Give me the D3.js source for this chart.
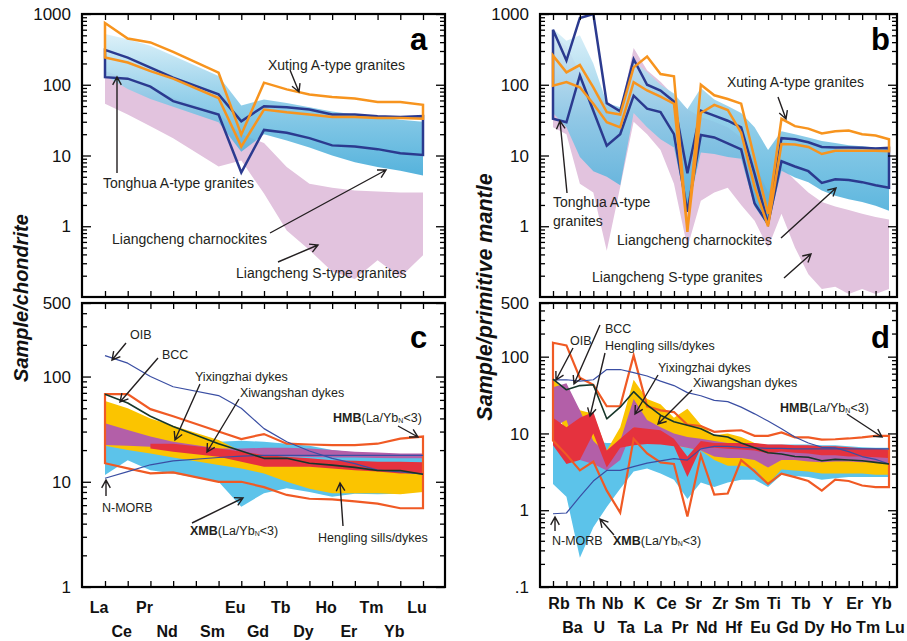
<!DOCTYPE html>
<html><head><meta charset="utf-8">
<script src="https://cdn.jsdelivr.net/npm/d3@7"></script>
<style>body{margin:0;background:#fff} text{font-family:"Liberation Sans",Arial,sans-serif}</style>
</head><body><svg id="chart" width="907" height="641"></svg>
<script>
// ---------- categories ----------
const reeElems = ["La","Ce","Pr","Nd","Pm","Sm","Eu","Gd","Tb","Dy","Ho","Er","Tm","Yb","Lu"];
const reeLabels = ["La","Ce","Pr","Nd","","Sm","Eu","Gd","Tb","Dy","Ho","Er","Tm","Yb","Lu"];
const spiderElems = ["Rb","Ba","Th","U","Nb","Ta","K","La","Ce","Pr","Sr","Nd","Zr","Hf","Sm","Eu","Ti","Gd","Tb","Dy","Y","Ho","Er","Tm","Yb","Lu"];
const tickValsAB = [1000,100,10,1];
const tickLabsAB = ["1000","100","10","1"];
const tickValsC = [500,100,10,1];
const tickLabsC = ["500","100","10","1"];
const tickValsD = [500,100,10,1,0.1];
const tickLabsD = ["500","100","10","1",".1"];

// ---------- panel a (chondrite-normalized) ----------
const xutingA_hi = [745,451,396,291,null,148,19.7,107,86,73,67,64,57,57,52];
const xutingA_lo = [242,206,156,122,null,65,13.4,44.6,40.8,38,35,35,34,34,33];
const tonghuaA_hi = [311,242,175,126,null,73,30.4,49.8,48,44.6,38,38,36,35,36];
const tonghuaA_lo = [128,122,94,58.6,null,38,5.75,23,21,17.6,13.9,13.4,12.3,10.8,10.2];
const charnA_hi = [520,440,355,256,null,133,51,62,55,48,42,38,35,32,30];
const charnA_lo = [134,87,63,49,null,29.5,11.3,20,16.3,13,10,8,6.9,6.1,5.2];
const stypeA_hi = [158,120,90,65,null,40,20,15,6.9,4.0,3.5,3.2,3.1,3.0,3.0];
const stypeA_lo = [54,38,26,17.6,null,7.0,8.5,2.9,0.87,0.46,0.23,0.18,0.33,0.19,0.39];

// ---------- panel b (primitive-mantle-normalized) ----------
const xutingB_hi = [258,150,190,92,41,38,176,250,142,132,0.83,100,71,63,54,9,1.5,33,26,24,20.5,22,22.5,20,19.2,17];
const xutingB_lo = [97,109,92,54,29.5,25,109,83,68,54,0.87,40,52,44,21,3.6,1.0,14.5,14.3,13.2,10.5,11.7,11.7,11.7,11.7,11.5];
const tonghuaB_hi = [600,220,880,1000,55,42,230,100,83,58,5.6,43,36.6,31,25,5.5,1.08,17.6,17,15.4,13.2,13,13,12.9,12.6,12.8];
const tonghuaB_lo = [33,29.5,135,43,13.8,20,70,46,41,20,1.6,19.5,18,14.8,12.2,2.1,1.08,8.3,7,6,4.1,4.6,4.5,4.2,3.8,3.5];
const charnB_hi = [620,420,500,200,55,48,215,152,100,75,45,90,62,50,40,25,12,22,20,18,16,15,14,13.5,13,12.5];
const charnB_lo = [40,25,9.5,6,5,3.8,40,25,17,13,1.6,11,10.5,9.5,9,1.9,1.0,6.1,4.9,4.2,3.2,2.7,2.4,2.2,1.95,1.65];
const stypeB_hi = [520,350,150,100,50,40,330,160,110,70,45,35,30,25,18,8,3,7,4.5,3,2.2,1.9,1.7,1.5,1.35,1.25];
const stypeB_lo = [25,20,4,3,0.45,3.6,30,20,12,4,0.5,2.3,3,3.5,2,1.2,0.5,1.5,0.5,0.21,0.13,0.14,0.11,0.13,0.11,0.13];

// ---------- panel c (chondrite-normalized, mafic) ----------
const oibC = [158,134,100,80,null,66,50,32,24,19.6,16.7,14.9,12.9,12.4,11.8];
const nmorbC = [10.8,12.5,14.5,15.8,null,17,17.5,17.8,17.8,17.8,17.8,17.8,17.8,17.8,17.8];
const bccC = [68,56,42,33.5,null,23,19.6,16.7,16.7,15,14.4,13.7,12.8,12.8,11.8];
const hmbC_hi = [68,68,49,42,null,30,25.5,28.4,23,22.6,22.3,22.3,23,25.7,26.9];
const hmbC_lo = [15,13.4,12,12.3,null,10,10,8.9,7.5,6.9,6.8,6.5,6.2,5.6,5.6];
const henglingC_hi = [58.6,50,40,34,null,25,19.4,17,16.5,16,15.5,15,14.5,14,13.5];
const henglingC_lo = [22,20,18.6,17,null,14.4,13.4,12,10,8.6,7.8,7.8,7.8,7.6,8.0];
const xmbC_hi = [22,22,21.5,21,null,24,24.5,24,23,22,20,19,18.5,18,18];
const xmbC_lo = [11.6,16,12.9,12,null,10,5.8,7.8,8.7,8.0,7.2,7.7,7.6,7.7,8.3];
const yixingC_hi = [36,31,27,24,null,20.7,20.7,21,21,20.7,20,19.3,19,18.6,18.6];
const yixingC_lo = [22.4,22,21.5,20.7,null,18.6,17.9,17.6,17.4,17.2,17,17,16.8,16.7,16.7];
const xiwangC_hi = [null,null,23,23,null,20.7,19.4,18,17.3,16.7,16,15.8,15.5,15.5,15.3];
const xiwangC_lo = [null,null,20.7,19.3,null,17.3,15.5,13.9,13.9,13.9,13.4,12.9,12.5,12,12];

// ---------- panel d (primitive-mantle-normalized, mafic) ----------
const oibD = [50,50,48,50,68,68,62,56,48,42,34,31,27,26,22,18,14.5,11.5,9,7.5,6.6,6.5,5.8,5.0,4.6,4.0];
const nmorbD = [0.9,0.92,1.5,2.4,3.3,3.3,3.7,4.1,4.4,4.7,4.5,6.3,6.8,6.8,6.6,6.5,6.4,6.4,6.3,6.3,6.3,6.3,6.3,6.3,6.3,6.3];
const bccD = [51,37,42,43,15.5,22,35,23.5,17.3,14.2,12.8,11.5,9.5,9.0,7.5,6.5,5.6,5.4,5.0,4.9,4.4,4.6,4.5,4.4,4.2,4.0];
const hmbD_hi = [152,140,53,43,22.6,22.6,104,22.6,20,19,13,12.5,10.5,10.8,11,9.3,9.3,10.3,8.9,8.9,8.3,8.4,8.6,8.9,9.3,9.3];
const hmbD_lo = [8.1,5.3,3.3,4.3,1.8,0.93,8.5,5.5,4.2,4.0,0.83,5.2,1.6,1.65,4.5,3.2,2.2,3.0,2.7,2.4,1.8,2.5,2.4,2.1,2.0,2.0];
const henglingD_hi = [50,35,20,18,6,12,50,28,24,16,21,13,9.5,10,9,7.5,7,7,6.5,6,5.8,5.8,5.5,5.3,5.2,5.0];
const henglingD_lo = [25,10,6,8,4.5,6,12,9,8,7,6.5,6,4.5,3.8,3.8,3.5,2.2,3.4,3.3,3.2,3.0,3.0,3.0,3.0,2.9,2.9];
const xmbD_hi = [8,8,8,8,7.5,7.5,9.5,7.5,7.5,7.5,7.2,7.2,7.2,7.2,7.2,7.2,7.2,7.2,7.2,7.2,7,7,6.8,6.6,6.5,6.5];
const xmbD_lo = [2.2,1.5,0.24,0.6,1.1,1.9,3.2,3.5,3.0,2.5,1.4,2.3,2.0,2.3,2.5,2.5,2.0,2.9,2.8,2.7,2.5,2.6,2.7,2.7,2.7,2.7];
const yixingD_hi = [40,45,20,8,5.5,8,28,15,12,10,9,8.5,8,7.5,7.5,7,5.5,6.5,6.3,6.2,6.0,6.0,5.8,5.6,5.5,5.4];
const yixingD_lo = [12,15,4.5,4,3.3,4.5,12,9,8,7,6.5,6,5,4.8,4.8,4.5,3.6,4.5,4.5,4.3,4.2,4.3,4.3,4.2,4.2,4.1];
const xiwangD_hi = [16,12,16,19,6,8.5,12,11.5,11,8.5,5,8,7.5,7.5,7.5,7.5,7.2,7.2,7,7,6.8,6.8,6.6,6.4,6.3,6.2];
const xiwangD_lo = [7,4,4.5,10,3.6,6.5,7,7.3,7.2,6.8,2.7,6.5,6.5,6.3,6.2,6,5.5,5.8,5.6,5.5,5.2,5.2,5.0,5.0,4.9,4.8];

// ---------- colours ----------
const C = {orange:"#f7941e", tonghua:"#2b3a8f", pink:"#e2c3de", hmb:"#f05a24", yellow:"#fbc400",
  purple:"#b35fa8", red:"#e5323e", xmb:"#5cc3ea", thin:"#3a4ea3", bcc:"#17372a", ink:"#231f20"};

const svg = d3.select("#chart");
const defs = svg.append("defs");
const grad = defs.append("linearGradient").attr("id","blueGrad").attr("x1",0).attr("y1",0).attr("x2",0).attr("y2",1);
grad.append("stop").attr("offset",0).attr("stop-color","#d8eff8");
grad.append("stop").attr("offset",0.45).attr("stop-color","#86c9e7");
grad.append("stop").attr("offset",1).attr("stop-color","#3ea8d7");

function makePanel(o){
  const x = d3.scaleLinear().domain([0,o.n-1]).range([o.xFirst,o.xLast]);
  const y = d3.scaleLog().domain(o.yDomain).range([o.y1,o.y0]);
  const g = svg.append("g");
  defs.append("clipPath").attr("id","clip"+o.id).append("rect")
    .attr("x",o.x0).attr("y",o.y0).attr("width",o.x1-o.x0).attr("height",o.y1-o.y0);
  const plot = g.append("g").attr("clip-path",`url(#clip${o.id})`);
  return {x,y,g,plot,o};
}
function polyPath(P,hi,lo){
  const up = hi.map((v,i)=>[i,v]).filter(d=>d[1]!=null);
  const dn = lo.map((v,i)=>[i,v]).filter(d=>d[1]!=null).reverse();
  return d3.line().x(d=>P.x(d[0])).y(d=>P.y(d[1]))(up.concat(dn))+"Z";
}
function band(P,hi,lo,fill,op){
  P.plot.append("path").attr("d",polyPath(P,hi,lo)).attr("fill",fill).attr("fill-opacity",op==null?1:op).attr("stroke","none");
}
function outline(P,hi,lo,stroke,w){
  P.plot.append("path").attr("d",polyPath(P,hi,lo)).attr("fill","none").attr("stroke",stroke)
    .attr("stroke-width",w).attr("stroke-linejoin","miter");
}
function line(P,vals,stroke,w){
  const pts = vals.map((v,i)=>[i,v]).filter(d=>d[1]!=null);
  P.plot.append("path").attr("d",d3.line().x(d=>P.x(d[0])).y(d=>P.y(d[1]))(pts))
    .attr("fill","none").attr("stroke",stroke).attr("stroke-width",w).attr("stroke-linejoin","round");
}
function logMinor(dom){
  const out=[];
  for(let e=-2;e<=4;e++) for(let k=2;k<=9;k++){const v=k*Math.pow(10,e); if(v>dom[0]*1.001&&v<dom[1]*0.999) out.push(v);}
  return out;
}
function styleAxis(sel){ sel.select(".domain").remove(); sel.selectAll("line").attr("stroke","#000").attr("stroke-width",1.3); }
function frameAndAxes(P,majors,labels,xlab){
  const o=P.o;
  const majorsNo500 = majors;
  [[d3.axisLeft,o.x0],[d3.axisRight,o.x1]].forEach(([ax,xx])=>{
    P.g.append("g").attr("transform",`translate(${xx},0)`)
      .call(ax(P.y).tickValues(majorsNo500).tickSize(-9).tickFormat("")).call(styleAxis);
    P.g.append("g").attr("transform",`translate(${xx},0)`)
      .call(ax(P.y).tickValues(logMinor(o.yDomain)).tickSize(-5).tickFormat("")).call(styleAxis);
  });
  P.g.append("g").attr("transform",`translate(0,${o.y1})`)
    .call(d3.axisBottom(P.x).tickValues(d3.range(o.n)).tickSize(-6).tickFormat("")).call(styleAxis);
  P.g.append("g").attr("transform",`translate(0,${o.y0})`)
    .call(d3.axisTop(P.x).tickValues(d3.range(o.n)).tickSize(-6).tickFormat("")).call(styleAxis);
  P.g.append("rect").attr("x",o.x0).attr("y",o.y0).attr("width",o.x1-o.x0).attr("height",o.y1-o.y0)
    .attr("fill","none").attr("stroke","#000").attr("stroke-width",2.2);
  majors.forEach((v,i)=>{
    P.g.append("text").attr("x",o.x0-11).attr("y",P.y(v)).attr("dy","0.36em").attr("text-anchor","end")
      .attr("font-size",17).attr("fill","#111").text(labels[i]);
  });
  if(xlab){
    xlab.labels.forEach((t,i)=>{
      if(!t) return;
      P.g.append("text").attr("x",P.x(i)+xlab.dx).attr("y",i%2===0?xlab.r1:xlab.r2)
        .attr("text-anchor","middle").attr("font-size",16).attr("font-weight","bold").attr("fill","#111").text(t);
    });
  }
  P.g.append("text").attr("x",o.letter[0]).attr("y",o.letter[1]).attr("font-size",31).attr("font-weight","bold")
    .attr("fill","#000").text(o.id);
}

// ---------- annotations ----------
function note(x,y,parts,size){
  const t=svg.append("text").attr("x",x).attr("y",y).attr("font-size",size).attr("fill",C.ink);
  parts.forEach(p=>{
    if(typeof p==="string"){t.append("tspan").text(p);return;}
    const s=t.append("tspan").text(p.t);
    if(p.b) s.attr("font-weight","bold");
    if(p.s) s.attr("font-size",p.s);
    if(p.dy) s.attr("dy",p.dy);
  });
}
function arrow(x1,y1,x2,y2){
  const a=Math.atan2(y2-y1,x2-x1), L=9, w=0.5;
  const p=`M${x1},${y1}L${x2},${y2}M${x2-L*Math.cos(a-w)},${y2-L*Math.sin(a-w)}L${x2},${y2}L${x2-L*Math.cos(a+w)},${y2-L*Math.sin(a+w)}`;
  svg.append("path").attr("d",p).attr("fill","none").attr("stroke",C.ink).attr("stroke-width",1.4);
}
const ratio = [{t:"(La/Yb"},{t:"N",s:7,dy:1},{t:"<3)",dy:-1}];

// ---------- Panel a ----------
const PA = makePanel({id:"a",n:15,xFirst:105,xLast:423,x0:82,x1:445,y0:14,y1:297,yDomain:[0.1,1000],letter:[410,50]});
band(PA,stypeA_hi,stypeA_lo,C.pink);
band(PA,charnA_hi,charnA_lo,"url(#blueGrad)",0.88);
outline(PA,tonghuaA_hi,tonghuaA_lo,C.tonghua,2.5);
outline(PA,xutingA_hi,xutingA_lo,C.orange,2.5);
frameAndAxes(PA,tickValsAB,tickLabsAB,null);

// ---------- Panel b ----------
const PB = makePanel({id:"b",n:26,xFirst:553,xLast:889,x0:540,x1:897,y0:14,y1:297,yDomain:[0.1,1000],letter:[871,50]});
band(PB,stypeB_hi,stypeB_lo,C.pink);
band(PB,charnB_hi,charnB_lo,"url(#blueGrad)",0.88);
outline(PB,tonghuaB_hi,tonghuaB_lo,C.tonghua,2.5);
outline(PB,xutingB_hi,xutingB_lo,C.orange,2.5);
frameAndAxes(PB,tickValsAB,tickLabsAB,null);

// ---------- Panel c ----------
const PC = makePanel({id:"c",n:15,xFirst:105,xLast:423,x0:82,x1:445,y0:303,y1:587,yDomain:[1,500],letter:[410,348]});
band(PC,xmbC_hi,xmbC_lo,C.xmb);
band(PC,henglingC_hi,henglingC_lo,C.yellow);
band(PC,yixingC_hi,yixingC_lo,C.purple);
band(PC,xiwangC_hi,xiwangC_lo,C.red);
outline(PC,hmbC_hi,hmbC_lo,C.hmb,2.2);
line(PC,oibC,C.thin,1.2);
line(PC,nmorbC,C.thin,1.2);
line(PC,bccC,C.bcc,1.6);
frameAndAxes(PC,tickValsC,tickLabsC,{labels:reeLabels,dx:-6,r1:613,r2:637});

// ---------- Panel d ----------
const PD = makePanel({id:"d",n:26,xFirst:553,xLast:889,x0:540,x1:897,y0:303,y1:587,yDomain:[0.1,500],letter:[871,348]});
band(PD,xmbD_hi,xmbD_lo,C.xmb);
band(PD,henglingD_hi,henglingD_lo,C.yellow);
band(PD,yixingD_hi,yixingD_lo,C.purple);
band(PD,xiwangD_hi,xiwangD_lo,C.red);
outline(PD,hmbD_hi,hmbD_lo,C.hmb,2.2);
line(PD,oibD,C.thin,1.2);
line(PD,nmorbD,C.thin,1.2);
line(PD,bccD,C.bcc,1.6);
frameAndAxes(PD,tickValsD,tickLabsD,{labels:spiderElems,dx:6,r1:609,r2:633});

// ---------- axis titles ----------
svg.append("text").attr("transform","translate(28,298) rotate(-90)").attr("text-anchor","middle")
  .attr("font-size",20).attr("font-weight","bold").attr("font-style","italic").attr("fill","#111").text("Sample/chondrite");
svg.append("text").attr("transform","translate(492,297) rotate(-90)").attr("text-anchor","middle")
  .attr("font-size",21.5).attr("font-weight","bold").attr("font-style","italic").attr("fill","#111").text("Sample/primitive mantle");

// ---------- annotations a ----------
note(268,70,["Xuting A-type granites"],14); arrow(290,70,299,92);
note(103,188,["Tonghua A-type granites"],14); arrow(117,173,117,77);
note(112,244,["Liangcheng charnockites"],14); arrow(270,233,386,170);
note(236,278,["Liangcheng S-type granites"],14); arrow(278,262,318,245);
// ---------- annotations b ----------
note(727,87,["Xuting A-type granites"],14); arrow(778,97,786,119);
note(553,207,["Tonghua A-type"],14); note(553,226,["granites"],14); arrow(567,193,560,121);
note(617,245,["Liangcheng charnockites"],14); arrow(781,238,836,188);
note(592,282,["Liangcheng S-type granites"],14); arrow(784,278,811,254);
// ---------- annotations c ----------
note(130,339,["OIB"],12.5); arrow(126,343,112,360);
note(162,359,["BCC"],12.5); arrow(158,358,120,402);
note(195,381,["Yixingzhai dykes"],12.5); arrow(200,384,175,440);
note(240,397,["Xiwangshan dykes"],12.5); arrow(239,399,207,452);
note(333,422,[{t:"HMB",b:true}].concat(ratio),12.5); arrow(398,426,418,437);
note(102,512,["N-MORB"],12.5); arrow(106,496,106,480);
note(190,535,[{t:"XMB",b:true}].concat(ratio),12.5); arrow(192,523,243,498);
note(318,542,["Hengling sills/dykes"],12.5); arrow(343,526,340,483);
// ---------- annotations d ----------
note(570,345,["OIB"],12.5); arrow(573,348,556,380);
note(605,333,["BCC"],12.5); arrow(600,325,574,384);
note(605,350,["Hengling sills/dykes"],12.5); arrow(605,353,590,416);
note(658,372,["Yixingzhai dykes"],12.5); arrow(658,375,635,414);
note(693,387,["Xiwangshan dykes"],12.5); arrow(692,390,658,424);
note(780,412,[{t:"HMB",b:true}].concat(ratio),12.5); arrow(847,414,882,437);
note(552,545,["N-MORB"],12.5); arrow(555,531,555,517);
note(613,545,[{t:"XMB",b:true}].concat(ratio),12.5); arrow(614,535,600,519);
</script></body></html>
